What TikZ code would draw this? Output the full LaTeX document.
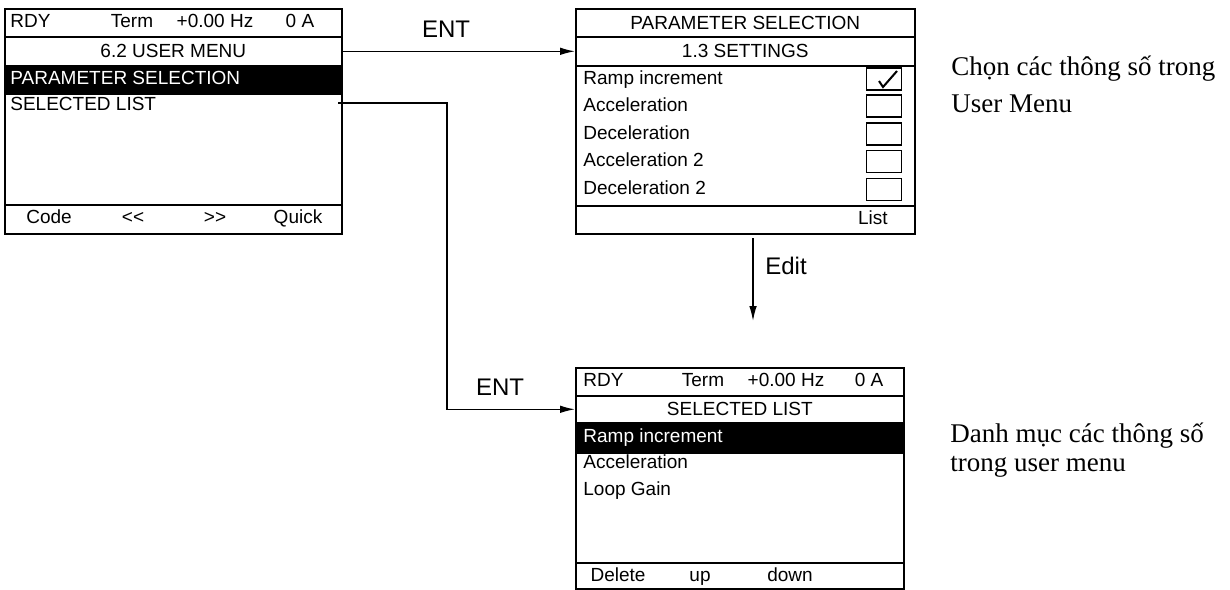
\documentclass[tikz,border=0pt]{standalone}
\usepackage{fontspec}
\setmainfont{Liberation Serif}
\setsansfont{Liberation Sans}
\usepackage{tikz}
\usetikzlibrary{arrows.meta,positioning}
\tikzset{
  scrrow/.style={draw,line width=0.8pt,inner sep=0pt,anchor=north west,font=\sffamily\fontsize{9.5}{11}\selectfont},
  lrow/.style={scrrow,minimum width=168.5pt},
  prow/.style={scrrow,minimum width=169.5pt},
  srow/.style={scrrow,minimum width=164pt},
  txt/.style={font=\sffamily\fontsize{9.5}{11}\selectfont,inner sep=0pt,text height=7pt,text depth=2pt},
  item/.style={txt,anchor=west},
  chk/.style={draw,line width=0.7pt,minimum width=17.5pt,minimum height=11pt,inner sep=0pt},
  keylbl/.style={font=\sffamily\fontsize{12}{14}\selectfont,inner sep=0pt},
  note/.style={font=\fontsize{13.5}{16}\selectfont,anchor=base west,inner sep=0pt},
  flow/.style={->,line width=0.7pt}
}

\begin{document}
\begin{tikzpicture}[x=0.5pt,y=-0.5pt,>={Latex[length=7.5pt,width=3.8pt]}]
\useasboundingbox (0,0) rectangle (1230,589);
\node[lrow,minimum height=14pt] (lhead) at (4,8) {};
\node[lrow,minimum height=14.5pt] (ltitle) at (4,36) {6.2 USER MENU};
\node[lrow,minimum height=14pt,fill=black] (lpar) at (4,65) {};
\node[lrow,minimum height=55.5pt] (lbody) at (4,93) {};
\node[lrow,minimum height=14.5pt] (lfoot) at (4,204) {};
\node[item] (lrdy) at (10,22) {RDY};
\node[txt] (lterm) at (132,22) {Term};
\node[txt] (lhz) at (215,22) {+0.00 Hz};
\node[txt] (lamp) at (300,22) {0 A};
\node[item,text=white] (lparam) at (10,79) {PARAMETER SELECTION};
\node[item] (lsel) at (10,105) {SELECTED LIST};
\node[txt] (lcode) at (49,218) {Code};
\node[txt] (lprev) at (133,218) {{<}{<}};
\node[txt] (lnext) at (215,218) {{>}{>}};
\node[txt] (lquick) at (298,218) {Quick};
\coordinate (lselend) at (338,103);

\node[prow,minimum height=14pt] (ptitle) at (575,8) {PARAMETER SELECTION};
\node[prow,minimum height=14.5pt] (pset) at (575,36) {1.3 SETTINGS};
\node[prow,minimum height=70pt] (pbody) at (575,65) {};
\node[prow,minimum height=14pt] (pfoot) at (575,205) {};
\foreach \y/\t/\n in {79/Ramp increment/1,106/Acceleration/2,134/Deceleration/3,161.5/Acceleration 2/4,189.5/Deceleration 2/5}{
  \node[item] (pitem\n) at (583,\y) {\t};
  \node[chk] (pchk\n) at (884,\y) {};
}
\draw[line width=1pt] (pchk1.center) ++(-5,2) -- ++(4,6) -- ++(14,-16);
\node[txt,anchor=east] (plist) at (888,219) {List};

\node[srow,minimum height=14pt] (shead) at (575,367) {};
\node[srow,minimum height=13.5pt] (stitle) at (575,395) {SELECTED LIST};
\node[srow,minimum height=15pt,fill=black] (sramp) at (575,422) {};
\node[srow,minimum height=55pt] (sbody) at (575,452) {};
\node[srow,minimum height=13pt] (sfoot) at (575,562) {};
\node[item] (srdy) at (583,381) {RDY};
\node[txt] (sterm) at (703,381) {Term};
\node[txt] (shz) at (786,381) {+0.00 Hz};
\node[txt] (samp) at (869,381) {0 A};
\node[item,text=white] (sitem1) at (583,437) {Ramp increment};
\node[item] (sitem2) at (583,463) {Acceleration};
\node[item] (sitem3) at (583,490) {Loop Gain};
\node[txt] (sdel) at (618,576) {Delete};
\node[txt] (sup) at (700,576) {up};
\node[txt] (sdown) at (790,576) {down};

\draw[flow] (ltitle.east) -- (pset.west);
\node[keylbl] (ent1) at (446,29) {ENT};
\draw[flow] (lselend) -- ++(109,0) |- (stitle.west);
\node[keylbl] (ent2) at (500,387) {ENT};
\coordinate (edittop) at (753,238);
\coordinate (editend) at (753,321);
\draw[flow] (edittop) -- (editend);
\node[keylbl] (edit) at (786,266) {Edit};

\node[note] (note1a) at (951,75) {Chọn các thông số trong};
\node[note] (note1b) at (951,112) {User Menu};
\node[note] (note2a) at (950,442) {Danh mục các thông số};
\node[note] (note2b) at (950,471) {trong user menu};
\end{tikzpicture}
\end{document}
